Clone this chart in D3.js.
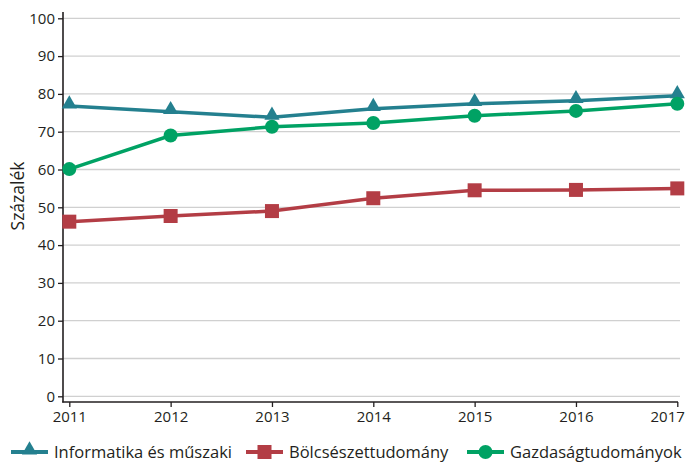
<!DOCTYPE html>
<html><head><meta charset="utf-8">
<script src="https://cdn.jsdelivr.net/npm/d3@7"></script>
<style>body{margin:0;background:#fff}text{font-family:"Open Sans",sans-serif;fill:#231f20}</style>
</head><body><svg id="c" width="688" height="463"></svg>
<script>
const years = [2011, 2012, 2013, 2014, 2015, 2016, 2017];
const yTicks = [0,10,20,30,40,50,60,70,80,90,100];
const informatika = [76.8, 75.3, 73.8, 76.1, 77.4, 78.2, 79.5];
const bolcsesz = [46.2, 47.7, 49.0, 52.4, 54.5, 54.6, 55.0];
const gazdasag = [60.1, 69.0, 71.3, 72.3, 74.2, 75.5, 77.4];
const series = [
  {name:"Informatika és műszaki", values:informatika, color:"#24808f", shape:"tri"},
  {name:"Bölcsészettudomány", values:bolcsesz, color:"#b33d45", shape:"sq"},
  {name:"Gazdaságtudományok", values:gazdasag, color:"#00a264", shape:"circ"}
];
const svg = d3.select("#c");
const x = d3.scaleLinear().domain([2011,2017]).range([69.3,677.3]);
const y = d3.scaleLinear().domain([0,100]).range([396.3,18.3]);
// grid
svg.append("g").selectAll("line").data(yTicks).join("line")
  .attr("x1",63).attr("x2",680).attr("y1",d=>y(d)).attr("y2",d=>y(d))
  .attr("stroke","#d0d0d0").attr("stroke-width",1.3);
// y axis
const ya = svg.append("g").attr("transform","translate(63,0)")
  .call(d3.axisLeft(y).tickValues(yTicks).tickSize(5).tickPadding(3));
ya.select(".domain").remove();
ya.selectAll("line").attr("stroke","#231f20").attr("stroke-width",1.3);
ya.selectAll("text").style("font-size","15px").attr("fill","#231f20");
svg.append("line").attr("x1",63).attr("x2",63).attr("y1",12).attr("y2",402.5).attr("stroke","#231f20").attr("stroke-width",1.6);
// x axis
const xa = svg.append("g").attr("transform","translate(0,402)")
  .call(d3.axisBottom(x).tickValues(years).tickFormat(d3.format("d")).tickSize(5).tickPadding(4));
xa.select(".domain").remove();
xa.selectAll("line").attr("stroke","#231f20").attr("stroke-width",1.3);
xa.selectAll("text").style("font-size","15px").attr("fill","#231f20");
xa.selectAll("text").filter(d=>d===2017).attr("text-anchor","end").attr("dx","7");
svg.append("line").attr("x1",62.2).attr("x2",678).attr("y1",402).attr("y2",402).attr("stroke","#231f20").attr("stroke-width",1.6);
// y label
svg.append("text").attr("transform","translate(24,196) rotate(-90)").attr("text-anchor","middle")
  .style("font-size","17.5px").text("Százalék");
const line = d3.line().x((d,i)=>x(years[i])).y(d=>y(d));
function marker(g, shape, color, cx, cy){
  if(shape==="tri") g.append("path").attr("d",d3.symbol(d3.symbolTriangle,100)()).attr("transform",`translate(${cx},${cy-2})`).attr("fill",color);
  else if(shape==="sq") g.append("rect").attr("x",cx-7).attr("y",cy-7).attr("width",14).attr("height",14).attr("fill",color);
  else g.append("circle").attr("cx",cx).attr("cy",cy).attr("r",7).attr("fill",color);
}
const order = [series[1], series[0], series[2]];
order.forEach(s=>{
  const g = svg.append("g");
  g.append("path").datum(s.values).attr("d",line).attr("fill","none").attr("stroke",s.color).attr("stroke-width",3.5);
  s.values.forEach((v,i)=>marker(g,s.shape,s.color,x(years[i]),y(v)));
});
// legend
const legX = [11, 246, 467];
series.forEach((s,i)=>{
  const g = svg.append("g").attr("transform",`translate(${legX[i]},452)`);
  g.append("line").attr("x1",0).attr("x2",37).attr("y1",0).attr("y2",0).attr("stroke",s.color).attr("stroke-width",4);
  marker(g,s.shape,s.color,18.5,0);
  g.append("text").attr("x",43).attr("y",5.5).style("font-size","16.5px").text(s.name);
});
</script></body></html>
